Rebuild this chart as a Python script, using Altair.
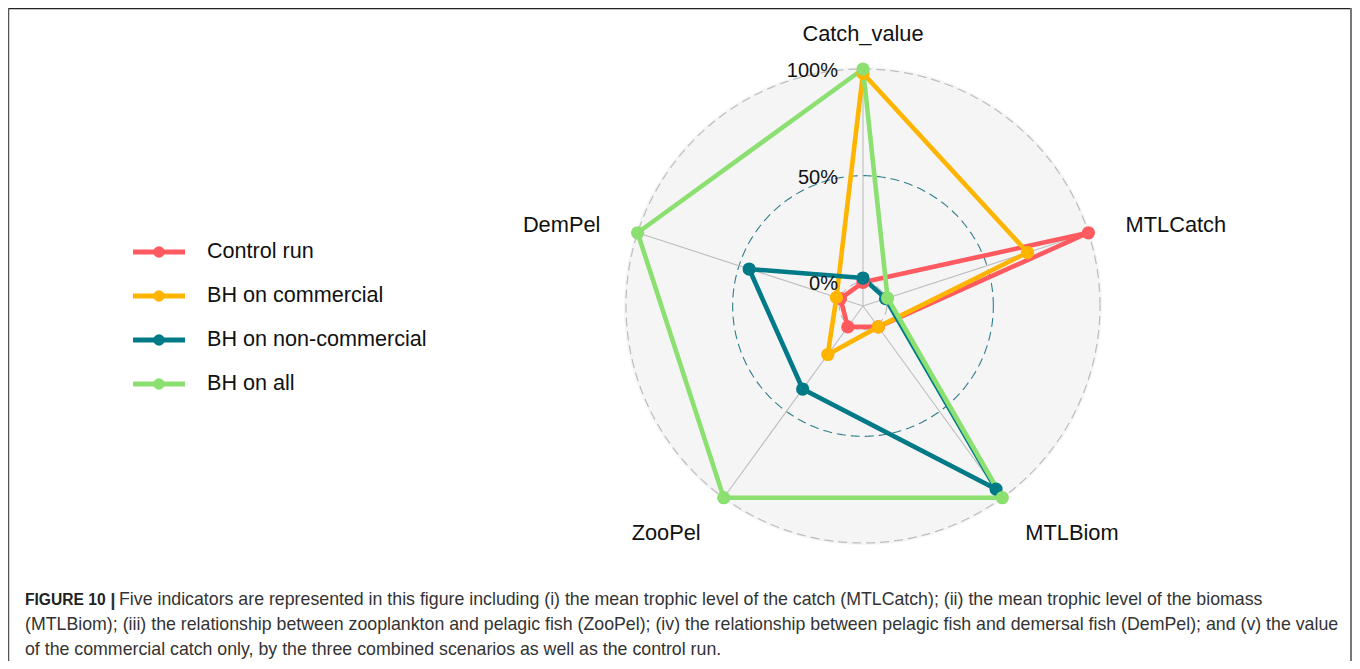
import altair as alt
import numpy as np
import pandas as pd

# ---------------- data ----------------
AXES = ["Catch_value", "MTLCatch", "MTLBiom", "ZooPel", "DemPel"]
SERIES = ["Control run", "BH on commercial", "BH on non-commercial", "BH on all"]
COLORS = ["#FF5A5F", "#FFB400", "#007A87", "#8CE071"]
CONTROL_RUN = [0.00, 1.00, 0.01, 0.01, 0.00]
BH_COMMERCIAL = [0.98, 0.70, 0.01, 0.17, 0.02]
BH_NON_COMMERCIAL = [0.02, 0.00, 0.95, 0.37, 0.45]
BH_ALL = [1.00, 0.01, 1.00, 1.00, 1.00]
GRID_VALUES = [0.0, 0.5, 1.0]
GRID_LABELS = ["0%", "50%", "100%"]
CAPTION_BOLD = "FIGURE 10"
CAPTION_BAR = "|"
CAPTION_LINES = [
    "Five indicators are represented in this figure including (i) the mean trophic level of the catch (MTLCatch); (ii) the mean trophic level of the biomass",
    "(MTLBiom); (iii) the relationship between zooplankton and pelagic fish (ZooPel); (iv) the relationship between pelagic fish and demersal fish (DemPel); and (v) the value",
    "of the commercial catch only, by the three combined scenarios as well as the control run.",
]

# ---------------- layout ----------------
W, H = 1344, 653
CX, CY = 855, 298          # centre of the radar inside the plot area (px)
R = 237                    # radius of the 100% ring (px)
LABEL_R = 1.165            # axis label distance (fraction of R)
LABEL_DY = 4               # labels sit slightly below their anchor
xs = alt.Scale(domain=[-CX, W - CX], nice=False, zero=False)
ys = alt.Scale(domain=[-(H - CY), CY], nice=False, zero=False)
FONT = "Liberation Sans"


def rad(v):
    return R * (0.9 * v + 0.1)


ang = np.deg2rad(90 - 72 * np.arange(len(AXES)))

values = [CONTROL_RUN, BH_COMMERCIAL, BH_NON_COMMERCIAL, BH_ALL]
rows = []
for s, vals in zip(SERIES, values):
    for k in range(len(AXES) + 1):
        kk = k % len(AXES)
        r = rad(vals[kk])
        rows.append({"series": s, "axis": AXES[kk], "ord": k,
                     "x": r * np.cos(ang[kk]), "y": r * np.sin(ang[kk])})
df = pd.DataFrame(rows)
df_pts = df[df["ord"] < len(AXES)]

color = alt.Color("series:N", scale=alt.Scale(domain=SERIES, range=COLORS), legend=None)
X = lambda f="x": alt.X(f"{f}:Q", scale=xs, axis=None)
Y = lambda f="y": alt.Y(f"{f}:Q", scale=ys, axis=None)

# background disc
bg = alt.Chart(pd.DataFrame({"x": [0.0], "y": [0.0]})).mark_point(
    shape="circle", filled=True, size=(2 * R + 4) ** 2, color="#F5F5F5", opacity=1
).encode(x=X(), y=Y())

# grid rings
t = np.linspace(0, 2 * np.pi, 361)
ring_rows = []
for g in GRID_VALUES:
    for i, tt in enumerate(t):
        ring_rows.append({"g": g, "i": i, "x": rad(g) * np.cos(tt), "y": rad(g) * np.sin(tt)})
ring_df = pd.DataFrame(ring_rows)
rings_grey = alt.Chart(ring_df[ring_df["g"] != 0.5]).mark_line(
    color="#BDBDBD", strokeWidth=1.2, strokeDash=[9, 5]
).encode(x=X(), y=Y(), detail="g:N", order="i:Q")
ring_mid = alt.Chart(ring_df[ring_df["g"] == 0.5]).mark_line(
    color="#2F7F8C", strokeWidth=1.1, strokeDash=[9, 5]
).encode(x=X(), y=Y(), order="i:Q")

# axis spokes
spk = pd.DataFrame({"axis": AXES, "x": 0.0, "y": 0.0,
                    "x2": rad(1.0) * np.cos(ang), "y2": rad(1.0) * np.sin(ang)})
spokes = alt.Chart(spk).mark_rule(color="#BDBDBD", strokeWidth=1.1).encode(
    x=X(), y=Y(), x2="x2:Q", y2="y2:Q")

# axis labels
lab = pd.DataFrame({"axis": AXES,
                    "x": LABEL_R * R * np.cos(ang), "y": LABEL_R * R * np.sin(ang) - LABEL_DY})
lab["align"] = np.where(np.abs(lab["x"]) < 1, "center", np.where(lab["x"] > 0, "left", "right"))
labels = []
for a in ["center", "left", "right"]:
    labels.append(alt.Chart(lab[lab["align"] == a]).mark_text(
        align=a, baseline="middle", font=FONT, fontSize=21.8, color="#111111"
    ).encode(x=X(), y=Y(), text="axis:N"))

# grid value labels
gl = pd.DataFrame({"lab": GRID_LABELS, "x": -25.0, "y": [rad(v) - 2 for v in GRID_VALUES]})
grid_labels = alt.Chart(gl).mark_text(
    align="right", baseline="middle", font=FONT, fontSize=20, color="#111111"
).encode(x=X(), y=Y(), text="lab:N")

lines = alt.Chart(df).mark_line(strokeWidth=4.6).encode(
    x=X(), y=Y(), color=color, order="ord:Q")
points = alt.Chart(df_pts).mark_circle(size=175, opacity=1).encode(
    x=X(), y=Y(), color=color)

# legend (drawn with the same colour scale)
LEG_X0, LEG_X1, LEG_TX, LEG_Y0, LEG_STEP = -730, -678, -656, 54, 44
leg = pd.DataFrame({"series": SERIES,
                    "y": [LEG_Y0 - i * LEG_STEP for i in range(len(SERIES))]})
leg["x"], leg["x2"], leg["xm"], leg["xt"] = LEG_X0, LEG_X1, (LEG_X0 + LEG_X1) / 2, LEG_TX
leg_lines = alt.Chart(leg).mark_rule(strokeWidth=5).encode(
    x=X(), x2="x2:Q", y=Y(), color=color)
leg_pts = alt.Chart(leg).mark_circle(size=130, opacity=1).encode(
    x=X("xm"), y=Y(), color=color)
leg_txt = alt.Chart(leg).mark_text(
    align="left", baseline="middle", font=FONT, fontSize=21.6, color="#111111"
).encode(x=X("xt"), y=Y(), text="series:N")

# caption
CAP_X, CAP_X_BAR, CAP_X_AFTER_BOLD, CAP_Y0, CAP_STEP = -838, -750, -744, -293.5, 25
cap = pd.DataFrame({"txt": CAPTION_LINES,
                    "x": [CAP_X_AFTER_BOLD, CAP_X, CAP_X],
                    "y": [CAP_Y0 - i * CAP_STEP for i in range(3)]})
caption = alt.Chart(cap).mark_text(
    align="left", baseline="middle", font=FONT, fontSize=17.75, color="#333333"
).encode(x=X(), y=Y(), text="txt:N")
cap_bold = alt.Chart(pd.DataFrame({"txt": [CAPTION_BOLD], "x": [CAP_X], "y": [CAP_Y0]})).mark_text(
    align="left", baseline="middle", font=FONT, fontSize=15.6, fontWeight="bold", color="#222222"
).encode(x=X(), y=Y(), text="txt:N")
cap_bar = alt.Chart(pd.DataFrame({"txt": [CAPTION_BAR], "x": [CAP_X_BAR], "y": [CAP_Y0]})).mark_text(
    align="center", baseline="middle", font=FONT, fontSize=19, fontWeight="bold", color="#333333"
).encode(x=X(), y=Y(), text="txt:N")

# frame (open at the bottom)
frame_top = alt.Chart(pd.DataFrame({"a": [0]})).mark_rule(color="#222222", strokeWidth=1.5).encode(
    x=alt.value(0), x2=alt.value(W - 1), y=alt.value(0.5))
frame_left = alt.Chart(pd.DataFrame({"a": [0]})).mark_rule(color="#555555", strokeWidth=1.5).encode(
    x=alt.value(0.5), y=alt.value(0), y2=alt.value(H))
frame_right = alt.Chart(pd.DataFrame({"a": [0]})).mark_rule(color="#777777", strokeWidth=2).encode(
    x=alt.value(W - 1), y=alt.value(0), y2=alt.value(H))

chart = alt.layer(
    bg, rings_grey, ring_mid, spokes, lines, points, grid_labels, *labels,
    leg_lines, leg_pts, leg_txt, caption, cap_bold, cap_bar, frame_top, frame_left, frame_right
).properties(
    width=W, height=H, padding=0, autosize=alt.AutoSizeParams(type="none"),
    background="white"
).configure_view(stroke=None)

chart.save("out.html", embed_options={"renderer": "svg", "actions": False})
